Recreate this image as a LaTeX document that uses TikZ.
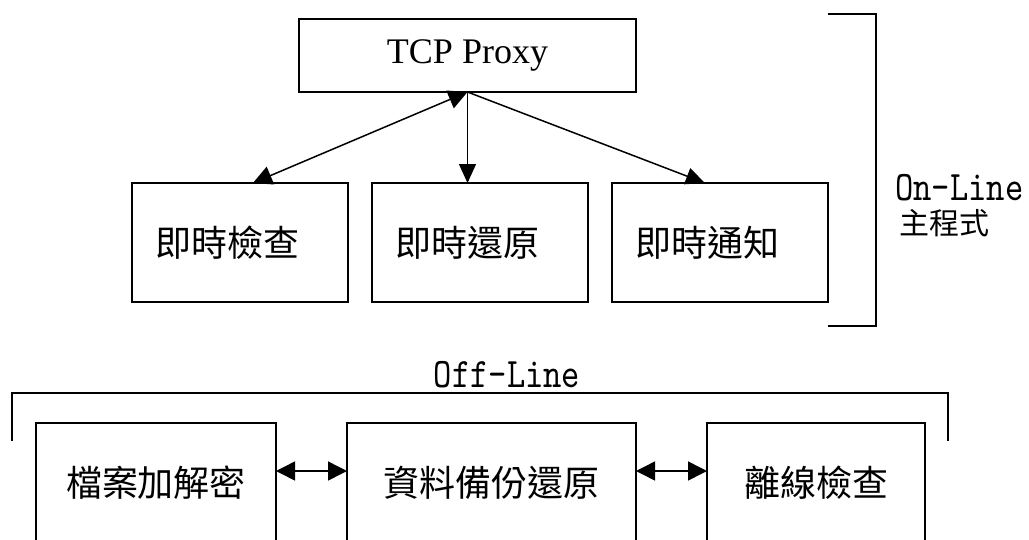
\documentclass[tikz,border=0pt]{standalone}
\usepackage{fontspec}
\setmainfont{Liberation Serif}
\newfontfamily\cjk{Noto Sans CJK TC}
\newfontfamily\narrowtt[FakeStretch=0.83]{lmmono10-regular.otf}
\usetikzlibrary{arrows.meta,positioning,calc}

\begin{document}
\begin{tikzpicture}[x=1pt, y=-1pt,
        box/.style={rectangle, draw, line width=1.8pt, outer sep=0pt, font=\cjk\fontsize{36}{40}\selectfont},
        topbox/.style={box, minimum width=216pt, minimum height=119pt, text width=170pt, inner xsep=23pt, align=left},
        offbox/.style={box, minimum height=120pt, align=center},
        conn/.style={-{Triangle[length=19pt,width=17pt]}, line width=1.5pt},
        biconn/.style={{Triangle[length=19pt,width=19pt]}-{Triangle[length=19pt,width=19pt]}, line width=1.5pt},
        bracket/.style={line width=1.5pt},
        lbl/.style={inner sep=0pt, font=\narrowtt\fontsize{42}{44}\selectfont}]
        
        \useasboundingbox (0,0) rectangle (1029,539);
        \clip (0,0) rectangle (1029,539);
        
        % on-line part
        \node[box, font=\fontsize{36}{40}\selectfont, minimum width=337pt, minimum height=73pt] (proxy) at (467.5,55.5) {TCP Proxy};
        \node[topbox] (rst) at (480,242.5) {即時還原};
        \node[topbox, left=24pt of rst] (chk) {即時檢查};
        \node[topbox, right=24pt of rst] (ntf) {即時通知};
        
        \draw[biconn] (proxy.south) -- ($(chk.north west)!0.56!(chk.north east)$);
        \draw[conn] (proxy.south) -- (proxy.south |- rst.north);
        \draw[conn] (proxy.south) -- ($(ntf.north west)!0.43!(ntf.north east)$);
        
        \draw[bracket] (828,14) -- (876,14) -- (876,326) -- (828,326);
        \node[lbl, anchor=base west] (onl) at (895,200) {On-Line};
        \node[inner sep=0pt, anchor=base west, font=\cjk\fontsize{30}{32}\selectfont] (prog) at (899,234) {主程式};
        
        % off-line part
        \node[offbox, minimum width=289pt] (bak) at (491.5,483) {資料備份還原};
        \node[offbox, minimum width=240pt, left=71pt of bak] (enc) {檔案加解密};
        \node[offbox, minimum width=218pt, right=71pt of bak] (off) {離線檢查};
        
        \draw[biconn] ([yshift=12pt]enc.east) -- ([yshift=12pt]bak.west);
        \draw[biconn] ([yshift=12pt]bak.east) -- ([yshift=12pt]off.west);
        
        \draw[bracket] (12,441) -- (12,393) -- (948,393) -- (948,441);
        \node[lbl, anchor=base] (offl) at (507,387) {Off-Line};
    \end{tikzpicture}
\end{document}
